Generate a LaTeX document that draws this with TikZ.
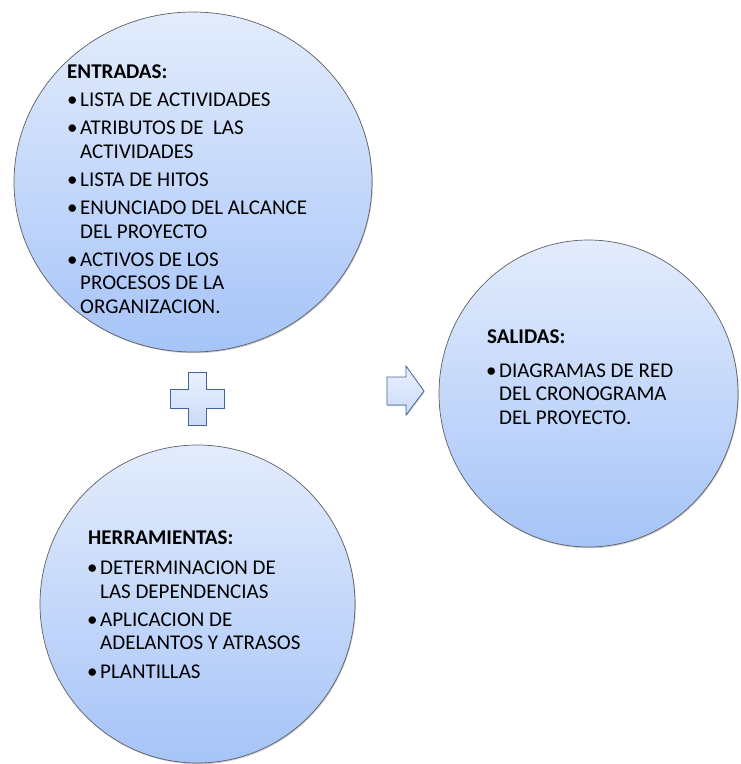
\documentclass[tikz,border=0pt]{standalone}
\usepackage{fontspec}
\setmainfont{Carlito}
\usetikzlibrary{shapes.geometric,shadows}

\definecolor{bubbletop}{RGB}{227,236,252}
\definecolor{bubblebot}{RGB}{166,196,248}
\definecolor{bubbleedge}{RGB}{95,95,100}
\definecolor{signtop}{RGB}{234,241,253}
\definecolor{signbot}{RGB}{203,219,247}
\definecolor{signedge}{RGB}{68,100,158}

\newcommand{\itm}[1]{\llap{•\kern2.5pt}#1}

\tikzset{
  bubble/.style={ellipse, inner sep=0pt, draw=bubbleedge, line width=0.7pt,
    top color=bubbletop, bottom color=bubblebot,
    drop shadow={shadow xshift=0.8pt, shadow yshift=-1.2pt, opacity=0.35, fill=black!60}},
  sign/.style={draw=signedge, line width=0.8pt, line join=miter,
    top color=signtop, bottom color=signbot,
    drop shadow={shadow xshift=0.8pt, shadow yshift=-1pt, opacity=0.3, fill=black!60}},
  heading/.style={anchor=base west, inner sep=0pt, font=\fontsize{21}{23.3}\selectfont\bfseries},
  % multi-line lists are placed by the baseline of their last line
  items/.style={anchor=base west, inner sep=0pt, align=left, font=\fontsize{21}{23.3}\selectfont}
}

\begin{document}
\begin{tikzpicture}[x=1pt, y=-1pt]
  \useasboundingbox (0,0) rectangle (740,764);

  % the three bubbles
  \node[bubble, minimum width=358pt, minimum height=340pt] (inputs) at (193,182) {};
  \node[bubble, minimum width=315pt, minimum height=318pt] (tools) at (197.5,604) {};
  \node[bubble, minimum width=299pt, minimum height=307pt] (outputs) at (588.5,393.5) {};

  % plus sign between inputs and tools
  \path[sign] (188,372) -- (206,372) -- (206,389) -- (224,389) -- (224,408)
    -- (206,408) -- (206,425) -- (188,425) -- (188,408) -- (170,408)
    -- (170,389) -- (188,389) -- cycle;

  % block arrow pointing to the outputs
  \path[sign] (387,377) -- (406,377) -- (406,366) -- (424,391) -- (406,415)
    -- (406,405) -- (387,405) -- cycle;

  % inputs
  \node[heading] (inputsTitle) at (67,78) {ENTRADAS:};
  \node[items] (inputsList) at (80,313) {%
    \itm{LISTA DE ACTIVIDADES}\\[5pt]
    \itm{ATRIBUTOS DE \ LAS}\\
    ACTIVIDADES\\[5pt]
    \itm{LISTA DE HITOS}\\[5pt]
    \itm{ENUNCIADO DEL ALCANCE}\\
    DEL PROYECTO\\[5pt]
    \itm{ACTIVOS DE LOS}\\
    PROCESOS DE LA\\
    ORGANIZACION.};

  % tools
  \node[heading] (toolsTitle) at (88,544) {HERRAMIENTAS:};
  \node[items] (toolsList) at (100,678) {%
    \itm{DETERMINACION DE}\\
    LAS DEPENDENCIAS\\[5pt]
    \itm{APLICACION DE}\\
    ADELANTOS Y ATRASOS\\[5pt]
    \itm{PLANTILLAS}};

  % outputs
  \node[heading] (outputsTitle) at (487,343) {SALIDAS:};
  \node[items] (outputsList) at (499,424) {%
    \itm{DIAGRAMAS DE RED}\\
    DEL CRONOGRAMA\\
    DEL PROYECTO.};
\end{tikzpicture}
\end{document}
